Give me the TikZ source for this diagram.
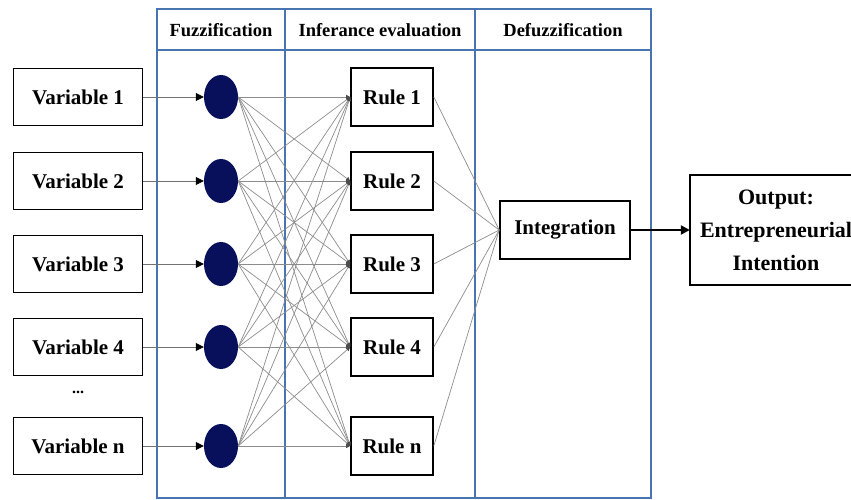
\documentclass[tikz,border=0pt]{standalone}
\usepackage{fontspec}
\setmainfont{Liberation Serif}
\usetikzlibrary{arrows.meta,shapes.geometric}
\definecolor{gridblue}{RGB}{72,116,178}
\definecolor{dotnavy}{RGB}{8,16,92}
\tikzset{
  boxfont/.style={font=\bfseries\fontsize{21}{24}\selectfont},
  varbox/.style={boxfont, draw=black, line width=1.6pt, minimum width=129pt, minimum height=57pt, inner sep=1pt},
  rulebox/.style={boxfont, draw=black, line width=1.6pt, minimum width=82pt, minimum height=58pt, inner sep=1pt},
  dot/.style={ellipse, fill=dotnavy, draw=none, minimum width=34pt, minimum height=44pt, inner sep=0pt},
  link/.style={draw=black!45, line width=0.7pt, -{Triangle[length=4pt,width=4pt,color=black!70]}},
  feed/.style={draw=black!55, line width=0.8pt, -{Triangle[length=8pt,width=8pt,color=black]}},
  grid/.style={draw=gridblue, line width=1.3pt},
  header/.style={font=\bfseries\fontsize{18.5}{20}\selectfont},
}
\begin{document}
\begin{tikzpicture}[x=1pt,y=-1pt]
\useasboundingbox (0,0) rectangle (851,500);

% stage table
\draw[grid] (157,498) -- (157,9) -- (651,9) -- (651,498) -- cycle;
\draw[grid] (157,50) -- (651,50);
\draw[grid] (285,9) -- (285,498);
\draw[grid] (475,9) -- (475,498);
\node[header] (h1) at (221,30) {Fuzzification};
\node[header] (h2) at (380,30) {Inferance evaluation};
\node[header] (h3) at (563,30) {Defuzzification};

% inputs, membership nodes and rules
\foreach \i/\y/\lab in {1/97/1, 2/181/2, 3/264/3, 4/347/4, 5/446/n}{
  \node[varbox] (v\i) at (78,\y) {Variable \lab};
  \node[dot] (c\i) at (221,\y) {};
  \node[rulebox] (r\i) at (392,\y) {Rule \lab};
}
\node[font=\bfseries\fontsize{16}{18}\selectfont] (dots) at (78,392) {...};

% full connection between membership nodes and rules
\foreach \i in {1,...,5}{
  \foreach \j in {1,...,5}{
    \draw[link] (c\i.east) -- (r\j.west);
  }
}

% inputs into membership nodes
\foreach \i in {1,...,5}{
  \draw[feed] (v\i.east) -- (c\i.west);
}

% defuzzification
\node[boxfont, draw=black, line width=1.6pt, minimum width=130pt, minimum height=58pt, inner sep=1pt]
  (int) at (565,230) {Integration};
\foreach \i in {1,...,5}{
  \draw[link, -] (r\i.east) -- (int.west);
}

% output box, running past the right edge
\node[minimum height=110pt, align=center, font=\bfseries\fontsize{22}{33}\selectfont,
  text width=172pt, inner sep=0pt] (out) at (776,230)
  {Output:\\Entrepreneurial\\Intention};
\draw[line width=1.6pt] ([xshift=20pt]out.north east) -- (out.north west)
  -- (out.south west) -- ([xshift=20pt]out.south east);
\draw[line width=2.2pt, -{Triangle[length=9pt,width=9pt]}] (int.east) -- (out.west);
\end{tikzpicture}
\end{document}
